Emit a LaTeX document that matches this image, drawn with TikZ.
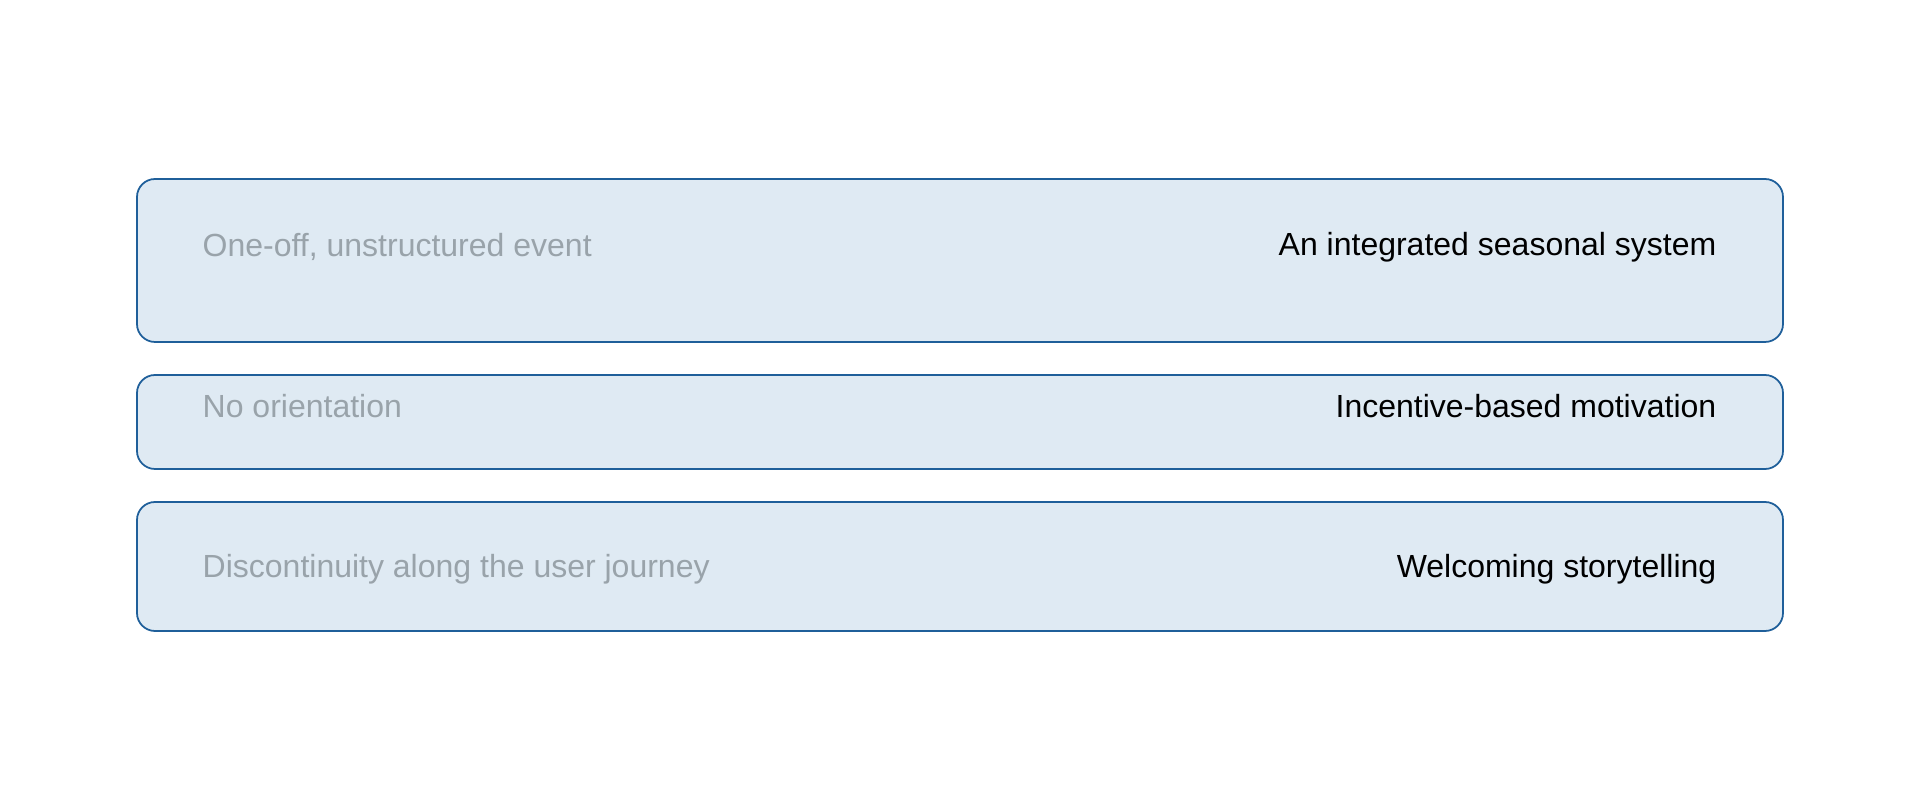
\documentclass[tikz,border=0pt]{standalone}
\usepackage{fontspec}
\setmainfont{Liberation Sans}
\definecolor{barfill}{HTML}{DFEAF3}
\definecolor{bardraw}{HTML}{1F5F9A}
\definecolor{oldtext}{HTML}{99A3AA}
\begin{document}
\begin{tikzpicture}[x = 0.01cm, y = -0.01cm,
	bar/.style = {draw = bardraw, fill = barfill, line width = 0.5pt, rounded corners = 0.18cm},
	old/.style = {anchor = west, text = oldtext, font = \fontsize{9.1}{10}\selectfont, inner sep = 0pt},
	new/.style = {anchor = east, text = black, font = \fontsize{9.1}{10}\selectfont, inner sep = 0pt}]

	% Canvas
	
	\useasboundingbox (0, 0) rectangle (1920, 810);
	
	% Three bars: top, bottom, text line, old text, new text
	
	\foreach \t/\b/\y/\old/\new [count = \i] in {
		179/342/247/{One-off, unstructured event}/{An integrated seasonal system},
		375/469/406/{No orientation}/{Incentive-based motivation},
		502/631/569/{Discontinuity along the user journey}/{Welcoming storytelling}}
	{
		\draw [bar] (137, \t) rectangle (1783, \b);
		\node [old] (old\i) at (202, \y) {\old};
		\node [new] (new\i) at (1717, \y) {\new};
	}
		
\end{tikzpicture}
\end{document}
